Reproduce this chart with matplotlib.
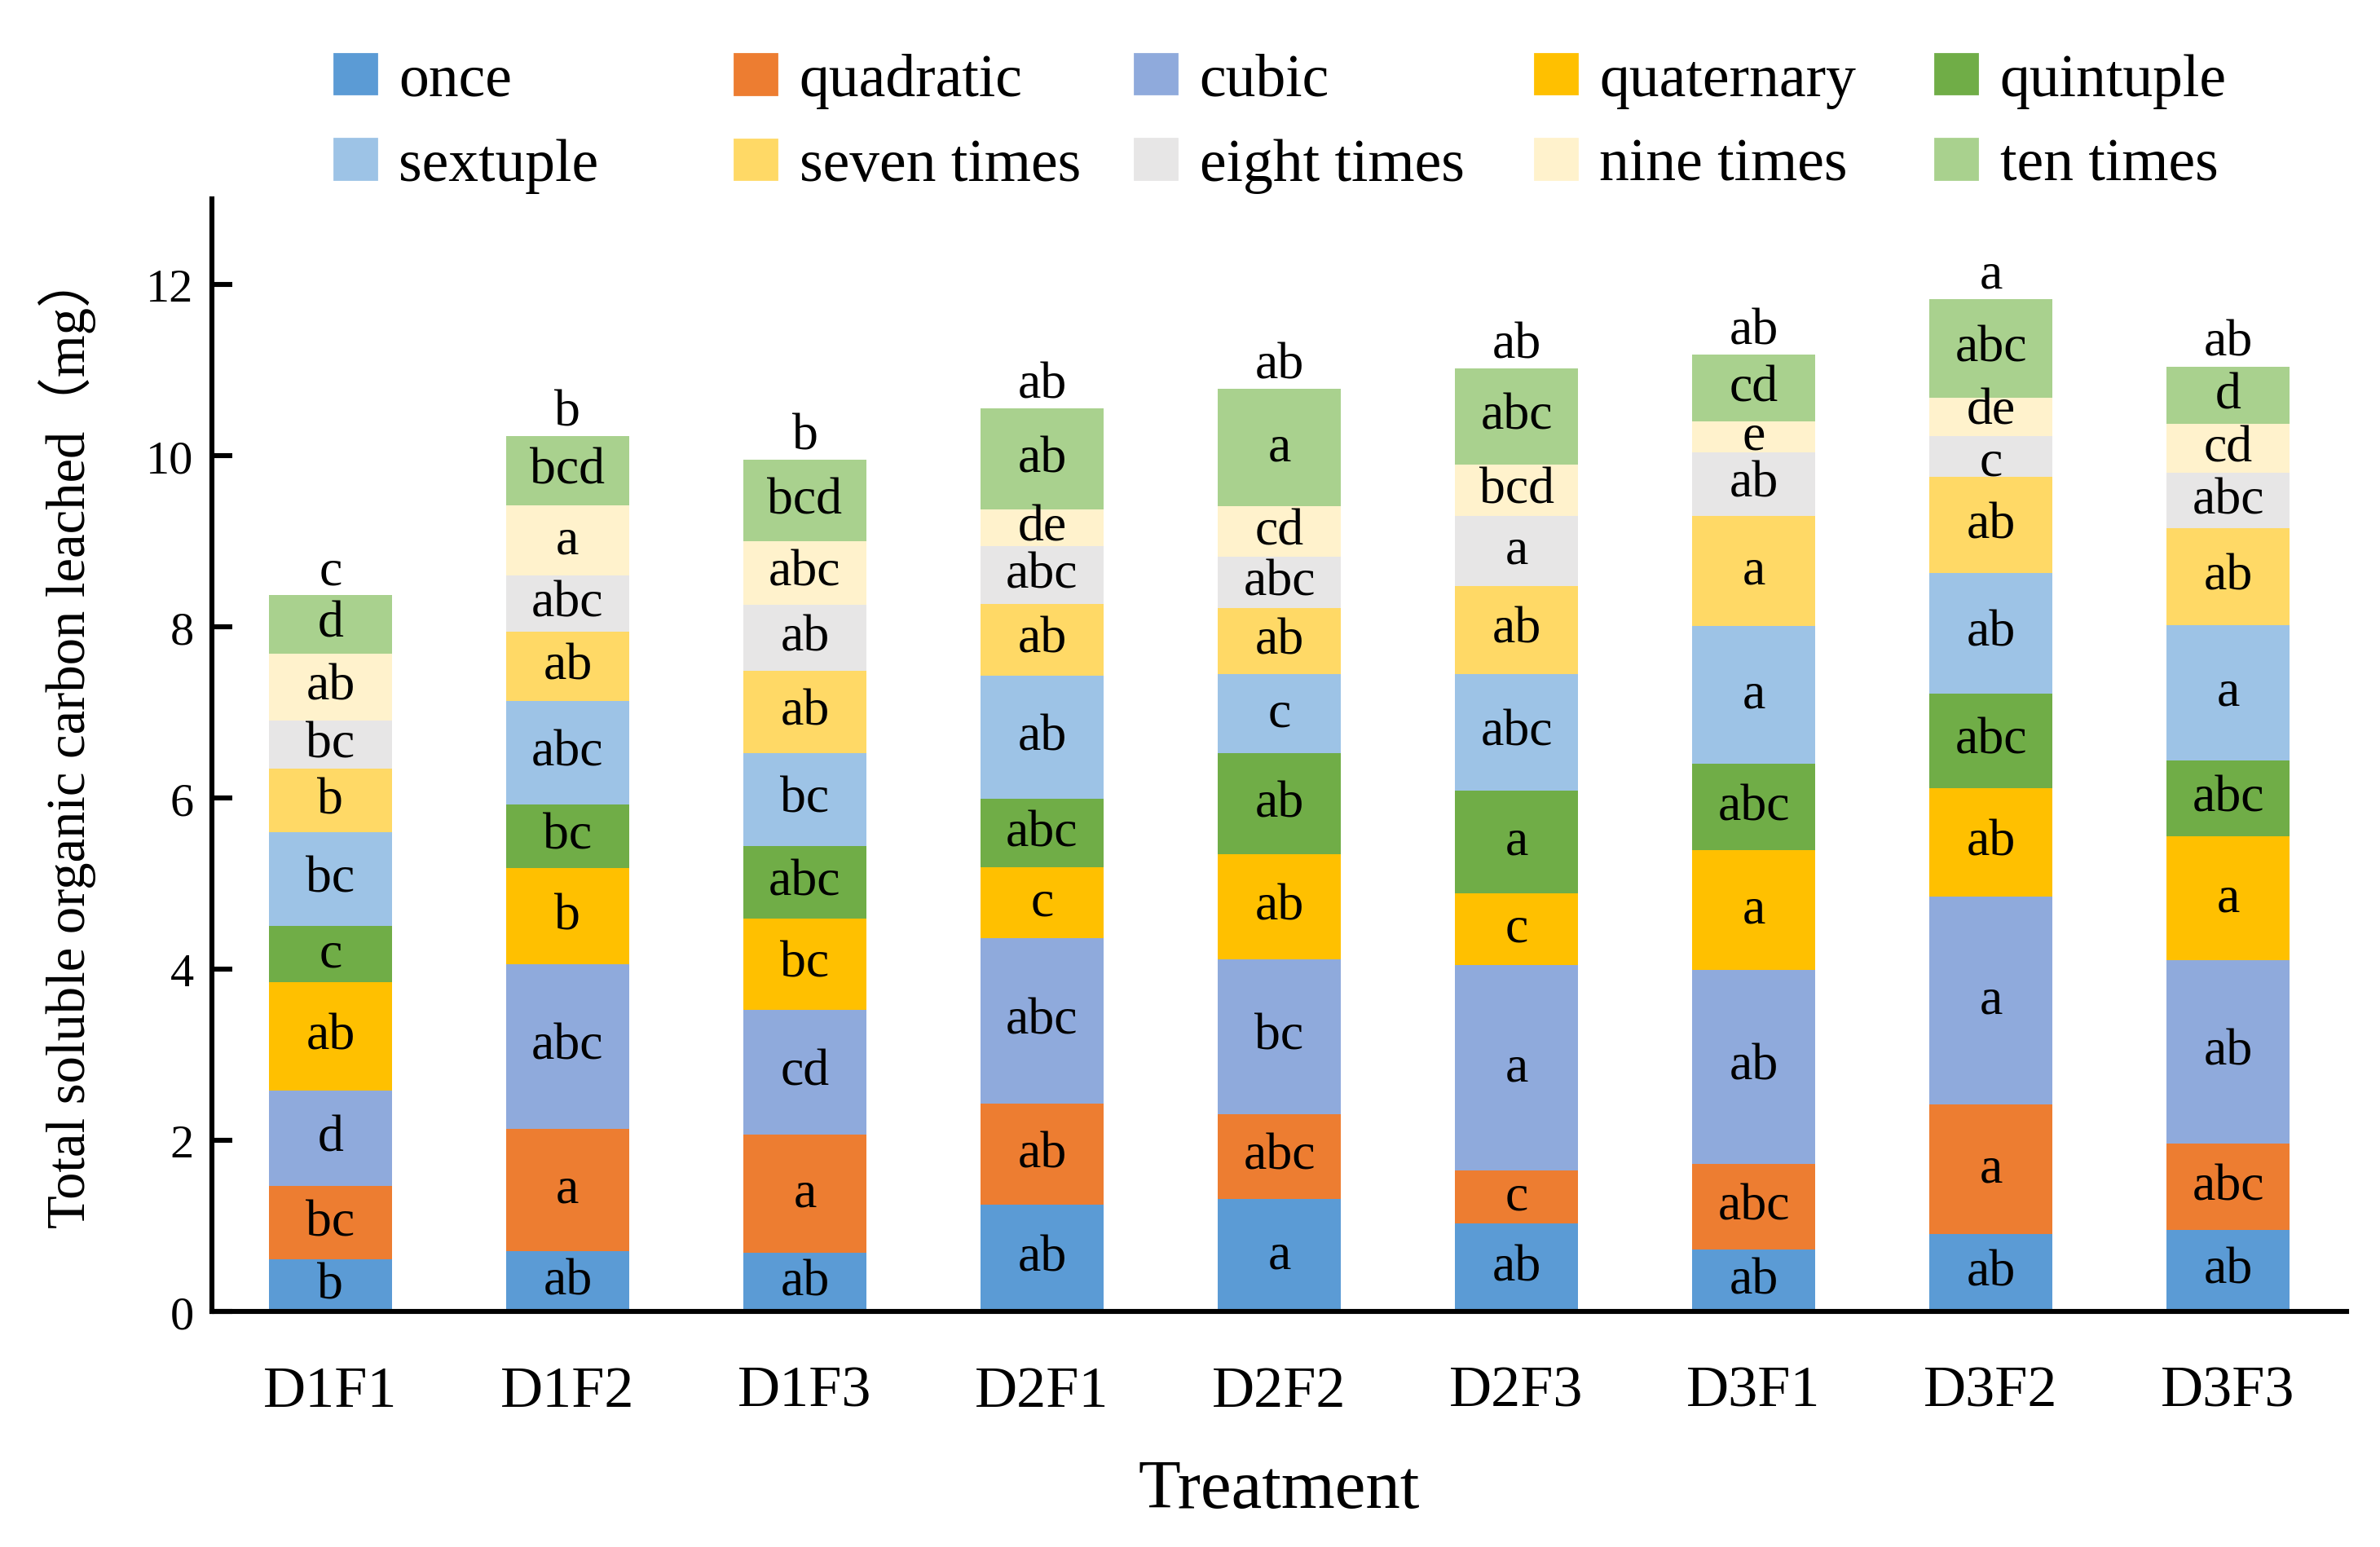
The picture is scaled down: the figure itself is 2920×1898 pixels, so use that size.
import numpy as np
import matplotlib.pyplot as plt
from matplotlib.patches import Patch

plt.rcParams['font.family'] = ['Liberation Serif', 'Noto Sans CJK SC']

treatments = ['D1F1', 'D1F2', 'D1F3', 'D2F1', 'D2F2', 'D2F3', 'D3F1', 'D3F2', 'D3F3']
series_names = ['once', 'quadratic', 'cubic', 'quaternary', 'quintuple',
                'sextuple', 'seven times', 'eight times', 'nine times', 'ten times']
colors = ['#5B9BD5', '#ED7D31', '#8FAADC', '#FFC000', '#70AD47',
          '#9DC3E6', '#FFD966', '#E7E6E6', '#FFF2CC', '#A9D18E']

# leached carbon per leaching event (mg)
once = [0.61, 0.71, 0.69, 1.25, 1.32, 1.03, 0.73, 0.91, 0.96]
quadratic = [0.86, 1.43, 1.38, 1.18, 0.99, 0.62, 1.00, 1.51, 1.00]
cubic = [1.11, 1.92, 1.46, 1.93, 1.81, 2.40, 2.26, 2.43, 2.15]
quaternary = [1.27, 1.12, 1.06, 0.83, 1.22, 0.84, 1.40, 1.27, 1.44]
quintuple = [0.66, 0.75, 0.85, 0.80, 1.19, 1.20, 1.01, 1.10, 0.89]
sextuple = [1.09, 1.20, 1.09, 1.44, 0.92, 1.36, 1.61, 1.41, 1.58]
seven_times = [0.74, 0.81, 0.96, 0.84, 0.77, 1.03, 1.29, 1.12, 1.13]
eight_times = [0.57, 0.66, 0.77, 0.67, 0.60, 0.82, 0.74, 0.48, 0.65]
nine_times = [0.78, 0.82, 0.74, 0.43, 0.59, 0.60, 0.36, 0.45, 0.57]
ten_times = [0.68, 0.81, 0.95, 1.18, 1.37, 1.12, 0.78, 1.15, 0.67]

# significance letters
once_sig = ['b', 'ab', 'ab', 'ab', 'a', 'ab', 'ab', 'ab', 'ab']
quadratic_sig = ['bc', 'a', 'a', 'ab', 'abc', 'c', 'abc', 'a', 'abc']
cubic_sig = ['d', 'abc', 'cd', 'abc', 'bc', 'a', 'ab', 'a', 'ab']
quaternary_sig = ['ab', 'b', 'bc', 'c', 'ab', 'c', 'a', 'ab', 'a']
quintuple_sig = ['c', 'bc', 'abc', 'abc', 'ab', 'a', 'abc', 'abc', 'abc']
sextuple_sig = ['bc', 'abc', 'bc', 'ab', 'c', 'abc', 'a', 'ab', 'a']
seven_sig = ['b', 'ab', 'ab', 'ab', 'ab', 'ab', 'a', 'ab', 'ab']
eight_sig = ['bc', 'abc', 'ab', 'abc', 'abc', 'a', 'ab', 'c', 'abc']
nine_sig = ['ab', 'a', 'abc', 'de', 'cd', 'bcd', 'e', 'de', 'cd']
ten_sig = ['d', 'bcd', 'bcd', 'ab', 'a', 'abc', 'cd', 'abc', 'd']
total_sig = ['c', 'b', 'b', 'ab', 'ab', 'ab', 'ab', 'a', 'ab']

values = [once, quadratic, cubic, quaternary, quintuple,
          sextuple, seven_times, eight_times, nine_times, ten_times]
sigs = [once_sig, quadratic_sig, cubic_sig, quaternary_sig, quintuple_sig,
        sextuple_sig, seven_sig, eight_sig, nine_sig, ten_sig]

# small vertical nudges (points) for labels in very thin neighbouring segments
nudge = {(7, 7): -2.5, (7, 8): 2.5}

fig = plt.figure(figsize=(14.6, 9.495), dpi=200)
ax = fig.add_axes([0.089, 0.152, 0.897, 0.719])

x = np.arange(len(treatments))
bottom = np.zeros(len(treatments))
for k, (vals, sig, col, name) in enumerate(zip(values, sigs, colors, series_names)):
    vals = np.array(vals)
    ax.bar(x, vals, width=0.52, bottom=bottom, color=col, label=name)
    for i, (b, v, s) in enumerate(zip(bottom, vals, sig)):
        ax.annotate(s, (x[i], b + v / 2), xytext=(0, nudge.get((i, k), 0)),
                    textcoords='offset points', ha='center', va='center',
                    fontsize=23)
    bottom = bottom + vals

for xi, tot, s in zip(x, bottom, total_sig):
    ax.annotate(s, (xi, tot), xytext=(0, 5), textcoords='offset points',
                ha='center', va='baseline', fontsize=23)

ax.set_xlim(-0.5, 8.5)
ax.set_ylim(0, 13)
ax.set_yticks(np.arange(0, 13, 2))
ax.set_xticks(x)
ax.set_xticklabels(treatments)
ax.tick_params(axis='x', length=0, pad=23.5, labelsize=26)
ax.tick_params(axis='y', direction='in', length=9, width=2.2, pad=8, labelsize=21)
for side in ['top', 'right']:
    ax.spines[side].set_visible(False)
for side in ['left', 'bottom']:
    ax.spines[side].set_linewidth(2.2)

ax.set_xlabel('Treatment', fontsize=30.5, labelpad=18)
ax.set_ylabel('Total soluble organic carbon leached（mg）', fontsize=24,
              labelpad=22, y=0.514)

# legend: 5 columns with equal pitch
col_x = [410, 901, 1392, 1883, 2374]
for j in range(5):
    handles = [Patch(color=colors[j]), Patch(color=colors[j + 5])]
    labels = [series_names[j], series_names[j + 5]]
    fig.legend(handles, labels, loc='center left',
               bbox_to_anchor=(col_x[j] / 2920, 1 - 152 / 1899),
               frameon=False, fontsize=26.5, borderpad=0, borderaxespad=0,
               handlelength=0.7, handleheight=0.65, handletextpad=0.38,
               labelspacing=0.5)

fig.savefig('out.png', dpi=200)
